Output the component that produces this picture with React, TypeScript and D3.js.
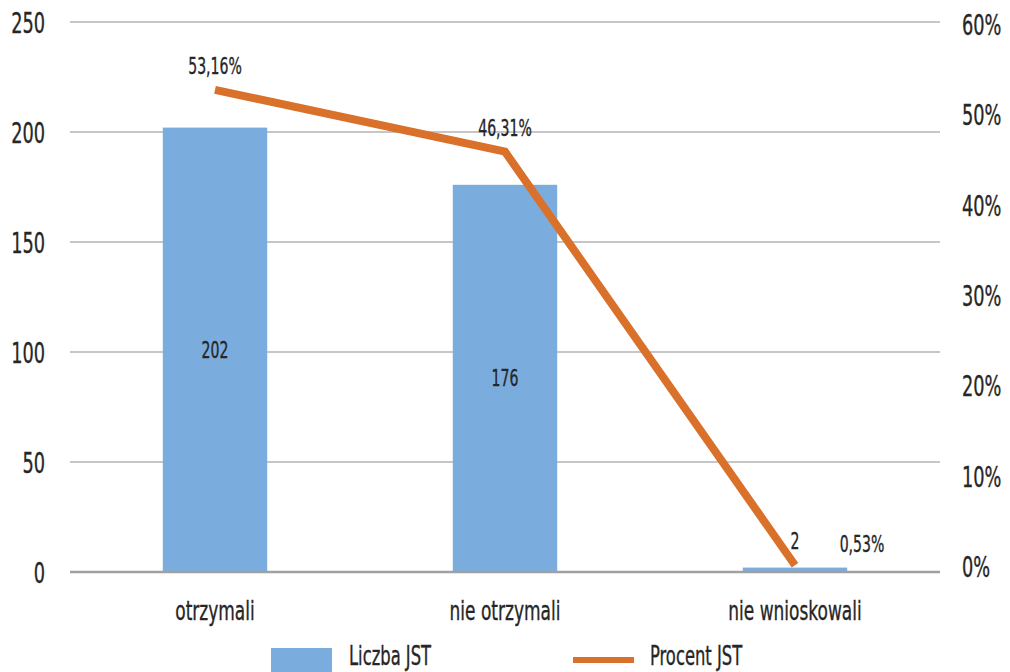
import React from 'react';
import * as d3 from 'd3';

const categories = ['otrzymali', 'nie otrzymali', 'nie wnioskowali'];
const counts = [202, 176, 2];
const percents = [53.16, 46.31, 0.53];
const percentLabels = ['53,16%', '46,31%', '0,53%'];
const leftTicks = [0, 50, 100, 150, 200, 250];
const rightTicks = [0, 10, 20, 30, 40, 50, 60];

const W = 1010;
const H = 672;
const FONT = "'DejaVu Sans Condensed', 'Liberation Sans Narrow', sans-serif";
const TXT = '#262626';

// narrow text: squeeze horizontally around its anchor
function T({ x, y, size, sx, anchor = 'middle', children }: any) {
  return (
    <text x={x} y={y} dy="0.35em" textAnchor={anchor} fontSize={size} fill={TXT}
      stroke={TXT} strokeWidth={0.35}
      transform={`translate(${x},0) scale(${sx},1) translate(${-x},0)`}>{children}</text>
  );
}

function App() {
  const x = d3.scaleBand<string>().domain(categories).range([70, 940]).paddingInner(0.64).paddingOuter(0.32);
  const y = d3.scaleLinear().domain([0, 250]).range([572, 22]);
  const yr = d3.scaleLinear().domain([0, 60]).range([570, 28]);

  const cx = (c: string) => (x(c) ?? 0) + x.bandwidth() / 2;
  const line = d3.line<number>()
    .x((_, i) => cx(categories[i]))
    .y((d) => yr(d));

  return (
    <svg width={W} height={H} style={{ position: 'absolute', left: 0, top: 0, background: '#fff' }}
      fontFamily={FONT}>
      {/* gridlines */}
      {leftTicks.filter((t) => t > 0).map((t) => (
        <line key={t} x1={70} x2={940} y1={y(t)} y2={y(t)} stroke="#b3b3b3" strokeWidth={1.5} />
      ))}
      {leftTicks.map((t) => (
        <T key={t} x={45} y={y(t) + 1} size={29} sx={0.68} anchor="end">{t}</T>
      ))}
      {rightTicks.map((t) => (
        <T key={t} x={962} y={yr(t) - 3} size={29} sx={0.68} anchor="start">{t}%</T>
      ))}
      {/* bars */}
      {categories.map((c, i) => (
        <rect key={c} x={x(c)} width={x.bandwidth()} y={y(counts[i])} height={y(0) - y(counts[i])} fill="#7aaddd" />
      ))}
      <line x1={70} x2={940} y1={y(0)} y2={y(0)} stroke="#a0a0a0" strokeWidth={2.5} />
      {/* bar labels */}
      {categories.map((c, i) => {
        const inside = counts[i] > 20;
        const ly = inside ? (y(counts[i]) + y(0)) / 2 : y(counts[i]) - 27;
        return <T key={c} x={cx(c)} y={ly} size={23} sx={0.68}>{counts[i]}</T>;
      })}
      {/* line */}
      <path d={line(percents) ?? ''} fill="none" stroke="#d9712a" strokeWidth={8} strokeLinejoin="miter" />
      {categories.map((c, i) => {
        const last = i === categories.length - 1;
        const lx = last ? cx(c) + 67 : cx(c);
        const ly = last ? 544 : yr(percents[i]) - 24;
        return <T key={c} x={lx} y={ly} size={23} sx={0.68}>{percentLabels[i]}</T>;
      })}
      {/* category labels */}
      {categories.map((c) => (
        <T key={c} x={cx(c)} y={611} size={27} sx={0.7}>{c}</T>
      ))}
      {/* legend */}
      <rect x={271} y={648} width={61} height={26} fill="#7aaddd" />
      <T x={349} y={656} size={26} sx={0.7} anchor="start">Liczba JST</T>
      <line x1={573} x2={634} y1={660} y2={660} stroke="#d9712a" strokeWidth={6} />
      <T x={650} y={656} size={26} sx={0.7} anchor="start">Procent JST</T>
    </svg>
  );
}

export default App;
